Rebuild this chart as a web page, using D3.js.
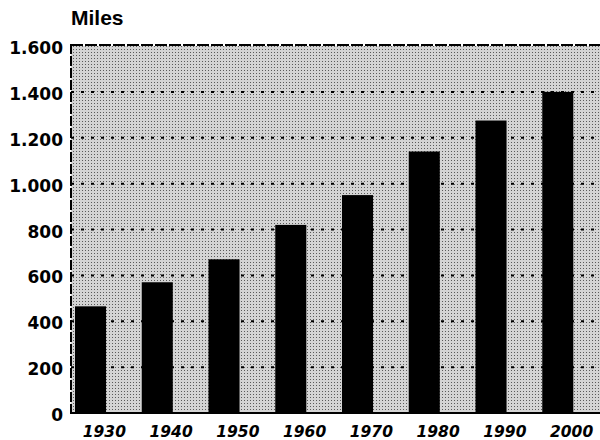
<!DOCTYPE html>
<html>
<head>
<meta charset="utf-8">
<script src="https://cdn.jsdelivr.net/npm/d3@7"></script>
<style>
  body { margin: 0; background: #fff; }
  .tick-label { font-family: "DejaVu Sans", sans-serif; font-weight: bold; fill: #000; }
  .unit-label { font-family: "Liberation Sans", Arial, sans-serif; font-weight: bold; fill: #000; }
</style>
</head>
<body>
<div id="chart"></div>
<script>
// data
var years = ["1930", "1940", "1950", "1960", "1970", "1980", "1990", "2000"];
var miles = [465, 570, 670, 820, 950, 1140, 1275, 1400];
var yTicks = [0, 200, 400, 600, 800, 1000, 1200, 1400, 1600];
var yLabels = ["0", "200", "400", "600", "800", "1.000", "1.200", "1.400", "1.600"];

var svgWidth = 600;
var svgHeight = 440;

// plot area runs past the right edge of the page
var plot = { left: 71, right: 605, top: 46, bottom: 413 };

var svg = d3.select("#chart")
  .append("svg")
  .attr("width", svgWidth)
  .attr("height", svgHeight);

// halftone-ish background
var defs = svg.append("defs");
var pat = defs.append("pattern")
  .attr("id", "dots")
  .attr("width", 3)
  .attr("height", 3)
  .attr("patternUnits", "userSpaceOnUse");
pat.append("rect").attr("width", 3).attr("height", 3).attr("fill", "#d4d4d4");
pat.append("rect").attr("x", 1).attr("y", 1).attr("width", 1).attr("height", 1).attr("fill", "#5a5a5a");

var x = d3.scaleBand()
  .domain(years)
  .range([plot.left, plot.right])
  .padding(0);

var y = d3.scaleLinear()
  .domain([0, 1600])
  .range([plot.bottom, plot.top]);

svg.append("rect")
  .attr("x", plot.left)
  .attr("y", plot.top)
  .attr("width", plot.right - plot.left)
  .attr("height", plot.bottom - plot.top)
  .attr("fill", "url(#dots)");

// dotted grid lines
svg.append("g")
  .selectAll("line")
  .data(yTicks.filter(t => t > 0 && t < 1600))
  .enter()
  .append("line")
  .attr("x1", plot.left)
  .attr("x2", plot.right)
  .attr("y1", d => y(d))
  .attr("y2", d => y(d))
  .attr("stroke", "#000")
  .attr("stroke-width", 2)
  .attr("stroke-dasharray", "3,7");

// bars sit at the left of each band, labels at band centre
var bw = x.bandwidth();
svg.append("g")
  .selectAll("rect")
  .data(years)
  .enter()
  .append("rect")
  .attr("x", d => x(d) + bw * 0.06)
  .attr("width", bw * 0.465)
  .attr("y", (d, i) => y(miles[i]))
  .attr("height", (d, i) => y(0) - y(miles[i]))
  .attr("fill", "#000");

// frame: top border, left axis, baseline
svg.append("line")
  .attr("x1", plot.left).attr("x2", plot.right)
  .attr("y1", plot.top - 1).attr("y2", plot.top - 1)
  .attr("stroke", "#000").attr("stroke-width", 2)
  .attr("stroke-dasharray", "12,2");
svg.append("line")
  .attr("x1", plot.left).attr("x2", plot.left)
  .attr("y1", plot.top - 2).attr("y2", plot.bottom + 1)
  .attr("stroke", "#000").attr("stroke-width", 2)
  .attr("stroke-dasharray", "10,2");
svg.append("line")
  .attr("x1", plot.left - 1).attr("x2", plot.right)
  .attr("y1", plot.bottom).attr("y2", plot.bottom)
  .attr("stroke", "#000").attr("stroke-width", 2);

// y tick labels
svg.append("g")
  .selectAll("text")
  .data(yTicks)
  .enter()
  .append("text")
  .attr("class", "tick-label")
  .attr("x", 63)
  .attr("y", d => y(d) + 8)
  .attr("text-anchor", "end")
  .style("font-size", "17px")
  .text((d, i) => yLabels[i]);

// x tick labels
svg.append("g")
  .selectAll("text")
  .data(years)
  .enter()
  .append("text")
  .attr("class", "tick-label")
  .attr("x", d => x(d) + bw / 2)
  .attr("y", 437)
  .attr("text-anchor", "middle")
  .style("font-size", "15.5px")
  .style("font-style", "italic")
  .text(d => d);

// unit label
svg.append("text")
  .attr("class", "unit-label")
  .attr("x", 71)
  .attr("y", 25)
  .style("font-size", "21px")
  .text("Miles");
</script>
</body>
</html>
